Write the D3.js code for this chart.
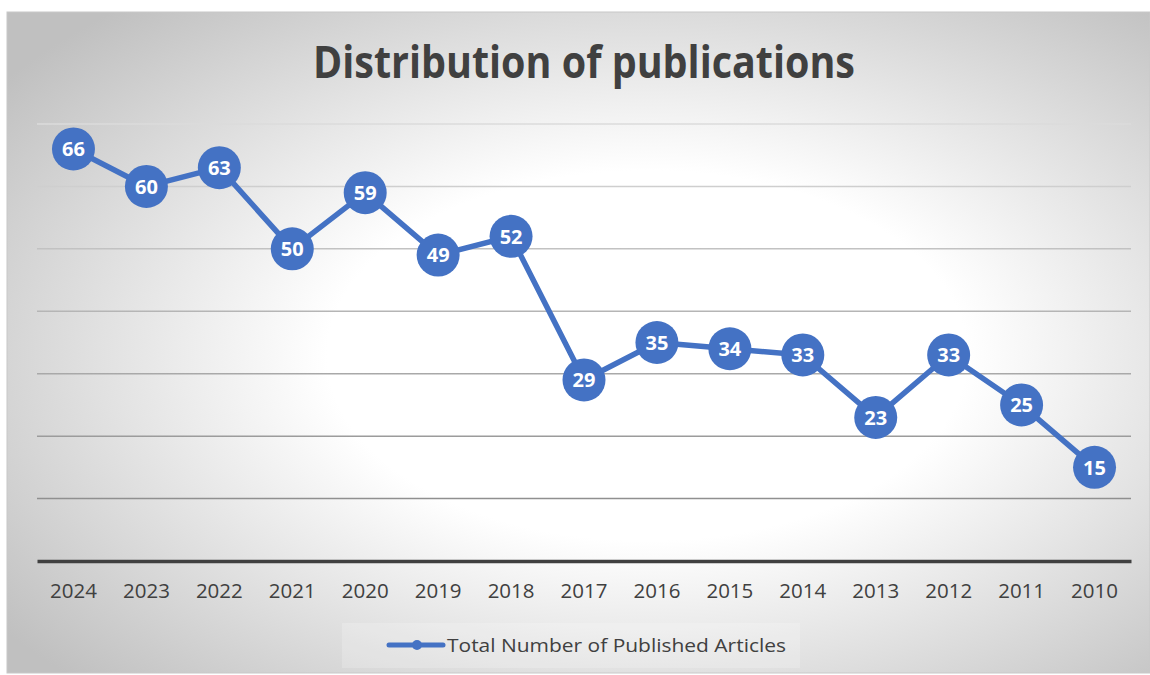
<!DOCTYPE html>
<html>
<head>
<meta charset="utf-8">
<script src="https://cdn.jsdelivr.net/npm/d3@7"></script>
<style>
  body { margin: 0; background: #fff; }
  svg { display: block; }
</style>
</head>
<body>
<script>
// publications per year
const years = ["2024", "2023", "2022", "2021", "2020", "2019", "2018", "2017",
               "2016", "2015", "2014", "2013", "2012", "2011", "2010"]
const articles = [66, 60, 63, 50, 59, 49, 52, 29, 35, 34, 33, 23, 33, 25, 15]
const gridValues = [10, 20, 30, 40, 50, 60, 70]

const seriesName = "Total Number of Published Articles"
const titleText = "Distribution of publications"

var width = 1150,
    height = 675;

var blue = "#4472C4",
    textColor = "#404040";

var svg = d3.select("body")
    .append("svg")
    .attr("width", width)
    .attr("height", height);

var defs = svg.append("defs");

// fond gris avec centre blanc (style excel)
var bg = defs.append("radialGradient")
    .attr("id", "bg")
    .attr("cx", "56%").attr("cy", "52%").attr("r", "70%");
bg.append("stop").attr("offset", "0%").attr("stop-color", "#ffffff");
bg.append("stop").attr("offset", "40%").attr("stop-color", "#ffffff");
bg.append("stop").attr("offset", "100%").attr("stop-color", "#c0c0c0");

// les lignes de grille sont plus pales en haut
var gridGrad = defs.append("linearGradient")
    .attr("id", "gridGrad")
    .attr("gradientUnits", "userSpaceOnUse")
    .attr("x1", 0).attr("x2", 0).attr("y1", 120).attr("y2", 500);
gridGrad.append("stop").attr("offset", "0%").attr("stop-color", "#dcdcdc");
gridGrad.append("stop").attr("offset", "100%").attr("stop-color", "#8f8f8f");

svg.append("rect")
    .attr("x", 7).attr("y", 12)
    .attr("width", width - 7).attr("height", 661)
    .attr("fill", "url(#bg)")
    .attr("stroke", "#c8c8c8")
    .attr("stroke-width", 1);

// titre
svg.append("text")
    .attr("x", 584)
    .attr("y", 78)
    .attr("text-anchor", "middle")
    .attr("font-family", "'Open Sans', sans-serif")
    .attr("font-weight", "bold")
    .attr("font-size", 45)
    .attr("fill", textColor)
    .attr("textLength", 542)
    .attr("lengthAdjust", "spacingAndGlyphs")
    .text(titleText);

var margin = { left: 37, right: 1131, top: 124, bottom: 561 };

var x = d3.scaleBand()
    .domain(years)
    .range([margin.left, margin.right]);

var y = d3.scaleLinear()
    .domain([0, 70])
    .range([margin.bottom, margin.top]);

// grille
svg.append("g")
    .selectAll("line")
    .data(gridValues)
    .join("line")
    .attr("x1", margin.left)
    .attr("x2", margin.right)
    .attr("y1", d => y(d))
    .attr("y2", d => y(d))
    .attr("stroke", "url(#gridGrad)")
    .attr("stroke-width", 1.5);

// axe x
var xAxis = svg.append("g")
    .attr("transform", `translate(0,${y(0)})`)
    .call(d3.axisBottom(x).tickSize(0).tickPadding(22));

xAxis.select(".domain")
    .attr("stroke", "#404040")
    .attr("stroke-width", 3.5);

xAxis.selectAll("text")
    .attr("font-family", "'Open Sans', sans-serif")
    .attr("font-size", 20.5)
    .attr("fill", textColor);

// la courbe
var line = d3.line()
    .x((d, i) => x(years[i]) + x.bandwidth() / 2)
    .y(d => y(d));

svg.append("path")
    .datum(articles)
    .attr("d", line)
    .attr("fill", "none")
    .attr("stroke", blue)
    .attr("stroke-width", 5.5)
    .attr("stroke-linejoin", "round");

var points = svg.append("g")
    .selectAll("g")
    .data(articles)
    .join("g")
    .attr("transform", (d, i) => `translate(${x(years[i]) + x.bandwidth() / 2},${y(d)})`);

points.append("circle")
    .attr("r", 21.5)
    .attr("fill", blue);

points.append("text")
    .attr("text-anchor", "middle")
    .attr("dy", "0.36em")
    .attr("font-family", "'Open Sans', sans-serif")
    .attr("font-weight", "bold")
    .attr("font-size", 20)
    .attr("fill", "#ffffff")
    .text(d => d);

// legende
var legend = svg.append("g");

legend.append("rect")
    .attr("x", 342).attr("y", 623)
    .attr("width", 458).attr("height", 45)
    .attr("fill", "#ffffff")
    .attr("opacity", 0.2);

legend.append("line")
    .attr("x1", 389).attr("x2", 443)
    .attr("y1", 645).attr("y2", 645)
    .attr("stroke", blue)
    .attr("stroke-width", 5)
    .attr("stroke-linecap", "round");

legend.append("circle")
    .attr("cx", 417).attr("cy", 645)
    .attr("r", 5)
    .attr("fill", blue);

legend.append("text")
    .attr("x", 447)
    .attr("y", 652)
    .attr("font-family", "'Open Sans', sans-serif")
    .attr("font-size", 19)
    .attr("fill", textColor)
    .attr("textLength", 339)
    .attr("lengthAdjust", "spacingAndGlyphs")
    .text(seriesName);
</script>
</body>
</html>
